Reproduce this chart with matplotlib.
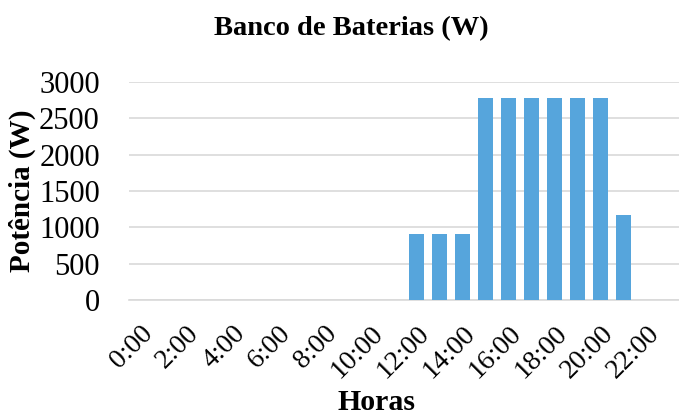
import matplotlib
matplotlib.use("Agg")
import matplotlib.pyplot as plt
import numpy as np

hours = [f"{h}:00" for h in range(24)]
values = [0, 0, 0, 0, 0, 0, 0, 0, 0, 0, 0, 0,
          910, 910, 910, 2780, 2780, 2780, 2780, 2780, 2780, 1170, 0, 0]
yticks = [0, 500, 1000, 1500, 2000, 2500, 3000]

plt.rcParams['font.family'] = ['Liberation Serif', 'DejaVu Serif']

fig = plt.figure(figsize=(6.79, 4.18), dpi=100)
ax = fig.add_axes([129/679, 1-300/418, 552/679, 218/418])

x = np.arange(len(hours))
ax.bar(x, values, width=0.65, color='#56A5DC', zorder=3)
ax.set_xlim(-0.5, 23.5)
ax.set_ylim(0, 3000)
ax.set_yticks(yticks)
ax.set_yticklabels([str(v) for v in yticks], fontsize=22)
ax.set_xticks(x[::2])
ax.set_xticklabels(hours[::2], fontsize=20, rotation=45, ha='right',
                   rotation_mode='anchor')
ax.tick_params(axis='y', length=0, pad=21)
ax.tick_params(axis='x', length=0, pad=15)
ax.grid(axis='y', color='#D9D9D9', linewidth=1.2, zorder=0)
for s in ['top', 'right', 'left']:
    ax.spines[s].set_visible(False)
ax.spines['bottom'].set_color('#D9D9D9')
ax.spines['bottom'].set_linewidth(1.2)

fig.text(351/679, 1-29/418, "Banco de Baterias (W)", ha='center', va='center',
         fontsize=20.5, fontweight='bold')
fig.text(377/679, 1-403/418, "Horas", ha='center', va='center',
         fontsize=21.5, fontweight='bold')
fig.text(22/679, 1-191/418, "Potência (W)", ha='center', va='center',
         rotation=90, fontsize=21, fontweight='bold')

fig.savefig("out.png", dpi=100)
